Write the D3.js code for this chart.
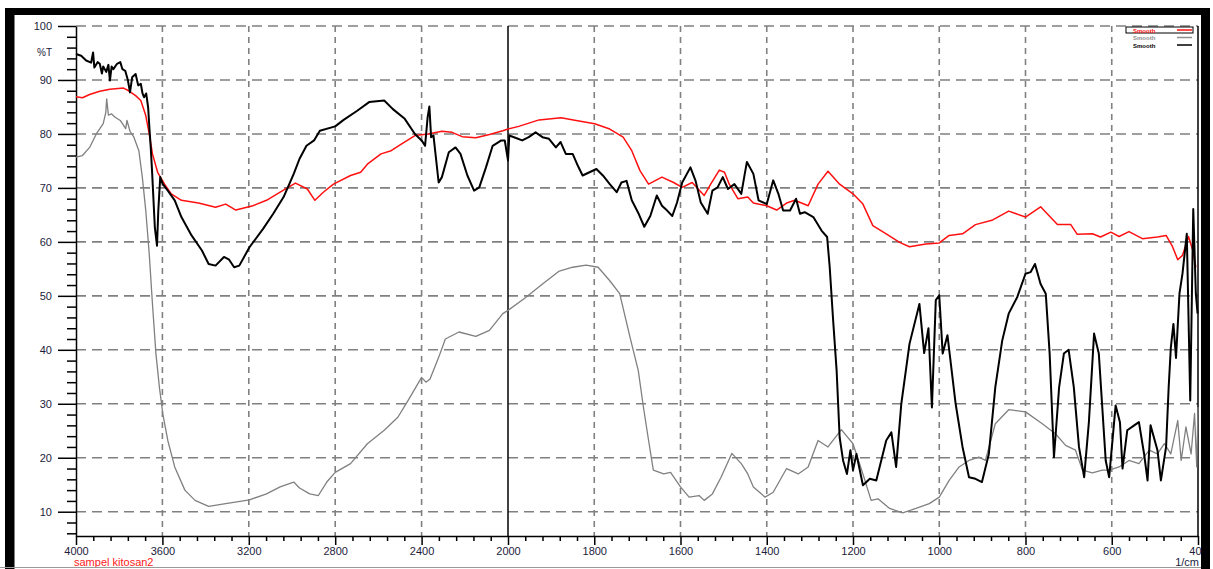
<!DOCTYPE html>
<html>
<head>
<meta charset="utf-8">
<script src="https://cdn.jsdelivr.net/npm/d3@7"></script>
<style>
  body { margin: 0; background: #fff; }
  svg { display: block; font-family: 'Liberation Sans', Arial, sans-serif; }
  .tick text { fill: #1c1c3c; font-size: 11px; }
  .axis path, .axis line { stroke: #000; stroke-width: 1.5; }
</style>
</head>
<body>
<div id="chart"></div>
<script>
// wavenumber ticks (1/cm) and %T ticks
const xMajor = [4000, 3600, 3200, 2800, 2400, 2000, 1800, 1600, 1400, 1200, 1000, 800, 600, 400];
const yMajor = [10, 20, 30, 40, 50, 60, 70, 80, 90, 100];
const legendLabels = ['Smooth', 'Smooth', 'Smooth'];

// series: [wavenumber, %T]
const redSeries = [[4000,86.9],[3970,86.7],[3937,87.3],[3890,87.9],[3843,88.3],[3780,88.5],[3756,88.0],[3724,87.1],[3700,86.2],[3677,83.4],[3661,80.0],[3646,76.3],[3622,72.9],[3590,70.7],[3559,68.9],[3512,67.7],[3433,67.2],[3354,66.4],[3307,67.0],[3260,65.9],[3181,66.7],[3118,67.7],[3055,69.2],[2984,70.9],[2929,69.8],[2894,67.7],[2855,69.2],[2808,70.7],[2729,72.3],[2682,72.9],[2651,74.4],[2588,76.3],[2541,76.9],[2494,78.1],[2431,79.7],[2369,80.0],[2306,80.5],[2259,80.3],[2212,79.5],[2149,79.3],[2086,79.9],[2024,80.6],[2000,80.9],[1975,81.4],[1928,82.6],[1877,83.0],[1842,82.5],[1799,81.9],[1764,80.9],[1733,79.4],[1713,76.9],[1694,73.2],[1674,70.7],[1643,72.0],[1616,71.0],[1596,70.1],[1573,71.0],[1545,68.6],[1530,70.7],[1510,73.3],[1498,72.9],[1487,70.7],[1467,68.0],[1444,68.3],[1431,67.2],[1400,66.7],[1377,65.9],[1354,67.2],[1335,67.7],[1304,66.7],[1281,70.7],[1258,73.1],[1231,70.7],[1200,68.9],[1177,67.0],[1154,63.0],[1123,61.5],[1092,59.9],[1069,59.1],[1031,59.6],[1000,59.8],[977,61.2],[946,61.5],[916,63.2],[878,64.0],[839,65.7],[800,64.6],[765,66.5],[726,63.2],[695,63.2],[680,61.4],[645,61.5],[626,60.9],[602,61.8],[583,61.0],[560,61.9],[529,60.6],[494,60.9],[474,61.2],[459,59.1],[447,56.7],[436,57.5],[422,61.0],[412,58.4],[405,55.3]];

const graySeries = [[4000,75.7],[3970,76.0],[3937,77.5],[3906,80.0],[3874,81.9],[3862,84.0],[3858,86.5],[3850,83.5],[3835,83.7],[3819,83.1],[3795,82.5],[3770,81.0],[3764,82.5],[3750,80.5],[3732,79.4],[3709,76.9],[3693,72.0],[3677,65.8],[3661,57.8],[3646,48.5],[3630,39.3],[3614,33.1],[3598,28.1],[3575,23.2],[3543,18.3],[3496,14.0],[3449,12.1],[3386,11.0],[3307,11.5],[3197,12.2],[3118,13.3],[3055,14.6],[2992,15.5],[2965,14.4],[2918,13.3],[2878,13.0],[2839,15.5],[2800,17.3],[2729,18.9],[2651,22.6],[2573,25.1],[2510,27.5],[2463,30.6],[2400,34.9],[2380,34.0],[2361,34.6],[2321,38.6],[2290,42.0],[2227,43.3],[2149,42.5],[2086,43.6],[2024,46.7],[2000,47.3],[1959,49.7],[1920,52.2],[1881,54.6],[1850,55.3],[1819,55.7],[1791,55.3],[1764,52.8],[1741,50.4],[1717,42.3],[1698,36.2],[1686,29.4],[1674,23.2],[1663,17.7],[1639,17.0],[1623,17.3],[1600,14.6],[1580,12.7],[1557,13.0],[1545,12.1],[1526,13.3],[1506,16.4],[1481,20.8],[1459,18.9],[1444,17.0],[1431,14.6],[1404,12.7],[1385,13.6],[1354,18.0],[1327,17.0],[1304,18.3],[1281,23.2],[1258,22.0],[1227,25.2],[1200,22.6],[1177,17.0],[1158,12.1],[1142,12.4],[1115,10.6],[1085,9.8],[1054,10.6],[1023,11.5],[1000,12.7],[977,15.8],[954,18.3],[931,19.5],[908,20.1],[893,19.5],[870,26.3],[839,28.9],[800,28.5],[761,26.3],[730,24.4],[707,22.3],[684,21.4],[668,17.7],[645,17.2],[622,17.7],[606,17.7],[583,18.3],[560,19.5],[537,18.9],[513,21.4],[494,20.7],[478,22.6],[463,20.7],[447,26.9],[439,19.5],[428,25.7],[416,20.7],[408,28.2],[403,18.3],[400,29.4]];

const blackSeries = [[4000,94.8],[3976,94.5],[3953,93.6],[3930,93.2],[3921,95.1],[3915,92.3],[3900,93.3],[3890,93.0],[3880,91.2],[3874,92.5],[3860,91.5],[3850,92.8],[3843,89.9],[3835,92.5],[3827,92.0],[3810,93.0],[3795,93.3],[3785,92.0],[3772,91.7],[3760,90.0],[3750,87.7],[3740,90.5],[3724,91.1],[3712,89.0],[3700,89.3],[3692,87.5],[3685,86.8],[3675,87.5],[3666,84.9],[3660,81.0],[3654,77.5],[3648,73.2],[3635,62.7],[3625,59.3],[3619,65.8],[3610,72.0],[3598,70.7],[3575,69.5],[3543,67.7],[3512,64.6],[3465,61.2],[3417,58.4],[3386,55.9],[3354,55.6],[3315,57.2],[3291,56.7],[3268,55.3],[3244,55.6],[3197,59.0],[3134,62.4],[3087,65.2],[3039,68.3],[2992,72.6],[2965,75.4],[2933,77.8],[2898,78.8],[2871,80.6],[2800,81.4],[2761,82.6],[2698,84.3],[2643,85.9],[2573,86.2],[2533,84.6],[2478,82.8],[2431,80.0],[2400,78.8],[2384,77.8],[2372,83.1],[2364,85.1],[2356,79.4],[2345,79.7],[2321,71.0],[2306,72.0],[2274,76.6],[2243,77.5],[2220,76.3],[2188,72.3],[2157,69.5],[2133,70.1],[2102,73.8],[2071,77.8],[2031,78.8],[2015,78.8],[2000,75.1],[1997,79.7],[1983,79.3],[1967,78.8],[1952,79.4],[1936,80.3],[1920,79.4],[1905,79.1],[1889,77.5],[1878,78.5],[1866,76.3],[1850,76.3],[1838,74.1],[1827,72.3],[1811,72.9],[1795,73.5],[1780,72.3],[1764,70.7],[1748,69.2],[1737,71.0],[1725,71.3],[1713,67.7],[1697,65.2],[1684,62.8],[1670,64.8],[1655,68.6],[1643,66.7],[1631,65.8],[1619,64.8],[1608,67.3],[1596,71.0],[1577,73.8],[1565,71.3],[1553,67.3],[1537,65.2],[1526,69.5],[1514,70.1],[1502,72.0],[1490,69.8],[1475,70.7],[1459,68.9],[1451,72.6],[1446,74.8],[1431,72.6],[1419,67.7],[1400,67.0],[1385,71.4],[1373,68.9],[1362,65.8],[1346,65.8],[1332,68.0],[1323,65.2],[1312,65.5],[1292,64.6],[1273,62.1],[1260,60.9],[1254,55.3],[1246,45.4],[1238,36.2],[1231,23.8],[1223,19.5],[1214,17.0],[1206,21.4],[1200,17.7],[1192,20.7],[1177,14.9],[1161,16.1],[1146,15.8],[1123,23.2],[1111,24.7],[1100,18.3],[1088,30.0],[1069,41.1],[1046,48.5],[1035,39.4],[1025,44.0],[1017,29.3],[1008,49.2],[1000,50.1],[992,39.3],[981,42.7],[962,30.0],[946,22.0],[931,16.4],[916,16.1],[901,15.5],[885,20.7],[870,33.1],[854,41.7],[839,46.7],[819,49.8],[800,54.1],[788,54.4],[778,55.9],[765,52.2],[753,50.4],[744,39.3],[734,20.1],[722,33.1],[711,39.3],[700,40.0],[688,33.1],[676,22.0],[664,16.4],[653,26.6],[641,43.0],[630,39.3],[614,19.5],[606,16.4],[591,29.7],[581,26.6],[575,18.0],[564,25.1],[548,26.0],[537,26.6],[525,20.7],[517,15.8],[510,26.0],[494,21.4],[486,15.8],[474,22.0],[468,33.1],[463,40.4],[457,44.8],[451,38.5],[443,50.4],[436,54.1],[426,61.5],[418,30.6],[411,66.1],[405,50.4],[401,46.7]];

const W = 1213, H = 569;
const plot = { left: 76, right: 1198, top: 26, bottom: 536 };

const svg = d3.select('#chart').append('svg')
  .attr('width', W)
  .attr('height', H);

// scale change at 2000 1/cm, like the instrument print
const x = d3.scaleLinear().domain([4000, 2000, 400]).range([plot.left, 508, plot.right]);
const y = d3.scaleLinear().domain([5.5, 100]).range([plot.bottom, plot.top]);

// minor ticks: five steps between each pair of labelled ticks
const xMinor = [];
for (let i = 0; i < xMajor.length - 1; i++) {
  const step = (xMajor[i + 1] - xMajor[i]) / 5;
  for (let k = 1; k < 5; k++) xMinor.push(xMajor[i] + k * step);
}
const yMinor = d3.range(6, 100, 2).filter(v => v % 10 !== 0);

/* grid */
const grid = svg.append('g').attr('stroke', '#808080').attr('stroke-width', 1.6);
grid.selectAll('line.h').data(yMajor).enter().append('line')
  .attr('x1', plot.left).attr('x2', plot.right)
  .attr('y1', d => y(d)).attr('y2', d => y(d))
  .attr('stroke-dasharray', '10,6');
grid.selectAll('line.v').data(xMajor.filter(d => d !== 4000 && d !== 400 && d !== 2000)).enter().append('line')
  .attr('x1', d => x(d)).attr('x2', d => x(d))
  .attr('y1', plot.top).attr('y2', plot.bottom)
  .attr('stroke-dasharray', '6,5');

// solid marker at 2000
svg.append('line')
  .attr('x1', x(2000)).attr('x2', x(2000))
  .attr('y1', plot.top).attr('y2', plot.bottom)
  .attr('stroke', '#111').attr('stroke-width', 1.6);

/* Y-Axis */
svg.append('g')
  .attr('class', 'axis')
  .attr('transform', 'translate(' + plot.left + ',0)')
  .call(d3.axisLeft(y).tickValues(yMinor).tickSize(9).tickFormat(''))
  .call(g => g.select('.domain').remove());
svg.append('g')
  .attr('class', 'axis')
  .attr('transform', 'translate(' + plot.left + ',0)')
  .call(d3.axisLeft(y).tickValues(yMajor).tickSizeInner(18).tickSizeOuter(0).tickPadding(6));

svg.append('text')
  .attr('x', 52).attr('y', y(95.2) + 4)
  .attr('text-anchor', 'end')
  .attr('font-size', 10).attr('fill', '#1c1c3c')
  .text('%T');

/* X-Axis */
svg.append('g')
  .attr('class', 'axis')
  .attr('transform', 'translate(0,' + plot.bottom + ')')
  .call(d3.axisBottom(x).tickValues(xMinor).tickSize(5).tickFormat(''))
  .call(g => g.select('.domain').remove());
svg.append('g')
  .attr('class', 'axis')
  .attr('transform', 'translate(0,' + plot.bottom + ')')
  .call(d3.axisBottom(x).tickValues(xMajor).tickSizeInner(9).tickSizeOuter(0).tickPadding(2).tickFormat(d3.format('d')));

// right border of the plot
svg.append('line')
  .attr('x1', plot.right).attr('x2', plot.right)
  .attr('y1', plot.top).attr('y2', plot.bottom)
  .attr('stroke', '#000').attr('stroke-width', 1.5);

svg.append('text')
  .attr('x', 74).attr('y', 566)
  .attr('font-size', 11).attr('fill', '#ff2020')
  .text('sampel kitosan2');

svg.append('text')
  .attr('x', 1199).attr('y', 566)
  .attr('text-anchor', 'end')
  .attr('font-size', 11).attr('fill', '#1c1c3c')
  .text('1/cm');

/* spectra */
const line = d3.line()
  .x(d => x(d[0]))
  .y(d => y(d[1]));

const series = [
  { data: graySeries, color: '#808080', width: 1.3 },
  { data: redSeries, color: '#ff1010', width: 1.5 },
  { data: blackSeries, color: '#000000', width: 2 }
];

svg.append('g').selectAll('path')
  .data(series)
  .enter().append('path')
  .attr('fill', 'none')
  .attr('stroke', d => d.color)
  .attr('stroke-width', d => d.width)
  .attr('stroke-linejoin', 'round')
  .attr('d', d => line(d.data));

/* legend */
const legendColors = ['#ff1010', '#909090', '#000000'];
const lg = svg.append('g').attr('transform', 'translate(1126,27)');
lg.append('rect')
  .attr('x', 0).attr('y', 0)
  .attr('width', 67).attr('height', 6)
  .attr('fill', 'none').attr('stroke', '#000').attr('stroke-width', 1);
const rows = lg.selectAll('g.row').data(legendLabels).enter().append('g')
  .attr('transform', (d, i) => 'translate(0,' + (3 + i * 7.5) + ')');
rows.append('text')
  .attr('x', 7).attr('y', 2.5)
  .attr('font-size', 6).attr('font-weight', 'bold')
  .attr('fill', (d, i) => legendColors[i])
  .text(d => d);
rows.append('line')
  .attr('x1', 51).attr('x2', 66)
  .attr('y1', 0).attr('y2', 0)
  .attr('stroke', (d, i) => legendColors[i])
  .attr('stroke-width', 1.5);

/* outer frame */
svg.append('rect').attr('x', 5).attr('y', 8).attr('width', 1205).attr('height', 7).attr('fill', '#000');
svg.append('rect').attr('x', 5).attr('y', 8).attr('width', 9.5).attr('height', H - 8).attr('fill', '#000');
svg.append('rect').attr('x', 1201).attr('y', 8).attr('width', 9).attr('height', H - 8).attr('fill', '#000');
svg.append('line')
  .attr('x1', 0).attr('x2', 1201)
  .attr('y1', 567.5).attr('y2', 567.5)
  .attr('stroke', '#999').attr('stroke-width', 1);
</script>
</body>
</html>
